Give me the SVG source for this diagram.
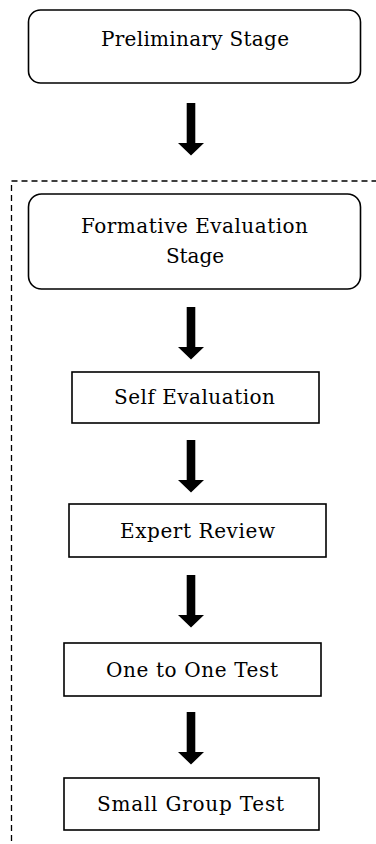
<svg xmlns="http://www.w3.org/2000/svg" width="376" height="844" viewBox="0 0 376 844">
<style>
  .box { fill: #fff; stroke: #000; stroke-width: 1.6; }
  .lbl { font-family: "DejaVu Serif", "Liberation Serif", serif; font-size: 20px; fill: #000; text-anchor: middle; }
  .arrow { fill: #000; stroke: none; }
  .frame { fill: none; stroke: #000; stroke-width: 1.3; stroke-dasharray: 6 4; }
</style>
<defs>
  <path id="arr" d="M-4.3 0 H4.3 V40 H13 L0 52.5 L-13 40 H-4.3 Z"/>
</defs>
<rect class="frame" x="11.5" y="181" width="420" height="720"/>
<g id="preliminary">
  <rect class="box" x="28.5" y="10" width="332" height="73" rx="12"/>
  <text class="lbl" x="195" y="46" textLength="188" lengthAdjust="spacing">Preliminary Stage</text>
</g>
<g id="formative">
  <rect class="box" x="28.5" y="194" width="332" height="95" rx="13"/>
  <text class="lbl" x="194.5" y="233" textLength="227" lengthAdjust="spacing">Formative Evaluation</text>
  <text class="lbl" x="195" y="263" textLength="58" lengthAdjust="spacing">Stage</text>
</g>
<g id="self">
  <rect class="box" x="72" y="372" width="247" height="51"/>
  <text class="lbl" x="194.5" y="404" textLength="161" lengthAdjust="spacing">Self Evaluation</text>
</g>
<g id="expert">
  <rect class="box" x="69" y="504" width="257" height="53"/>
  <text class="lbl" x="197.5" y="538" textLength="155" lengthAdjust="spacing">Expert Review</text>
</g>
<g id="onetoone">
  <rect class="box" x="64" y="643" width="257" height="53"/>
  <text class="lbl" x="192" y="677" textLength="172" lengthAdjust="spacing">One to One Test</text>
</g>
<g id="smallgroup">
  <rect class="box" x="64" y="778" width="255" height="52"/>
  <text class="lbl" x="190.5" y="811" textLength="187" lengthAdjust="spacing">Small Group Test</text>
</g>
<g id="connectors">
  <use href="#arr" class="arrow" x="191" y="103"/>
  <use href="#arr" class="arrow" x="191" y="307"/>
  <use href="#arr" class="arrow" x="191" y="440"/>
  <use href="#arr" class="arrow" x="191" y="575"/>
  <use href="#arr" class="arrow" x="191" y="712"/>
</g>
</svg>
